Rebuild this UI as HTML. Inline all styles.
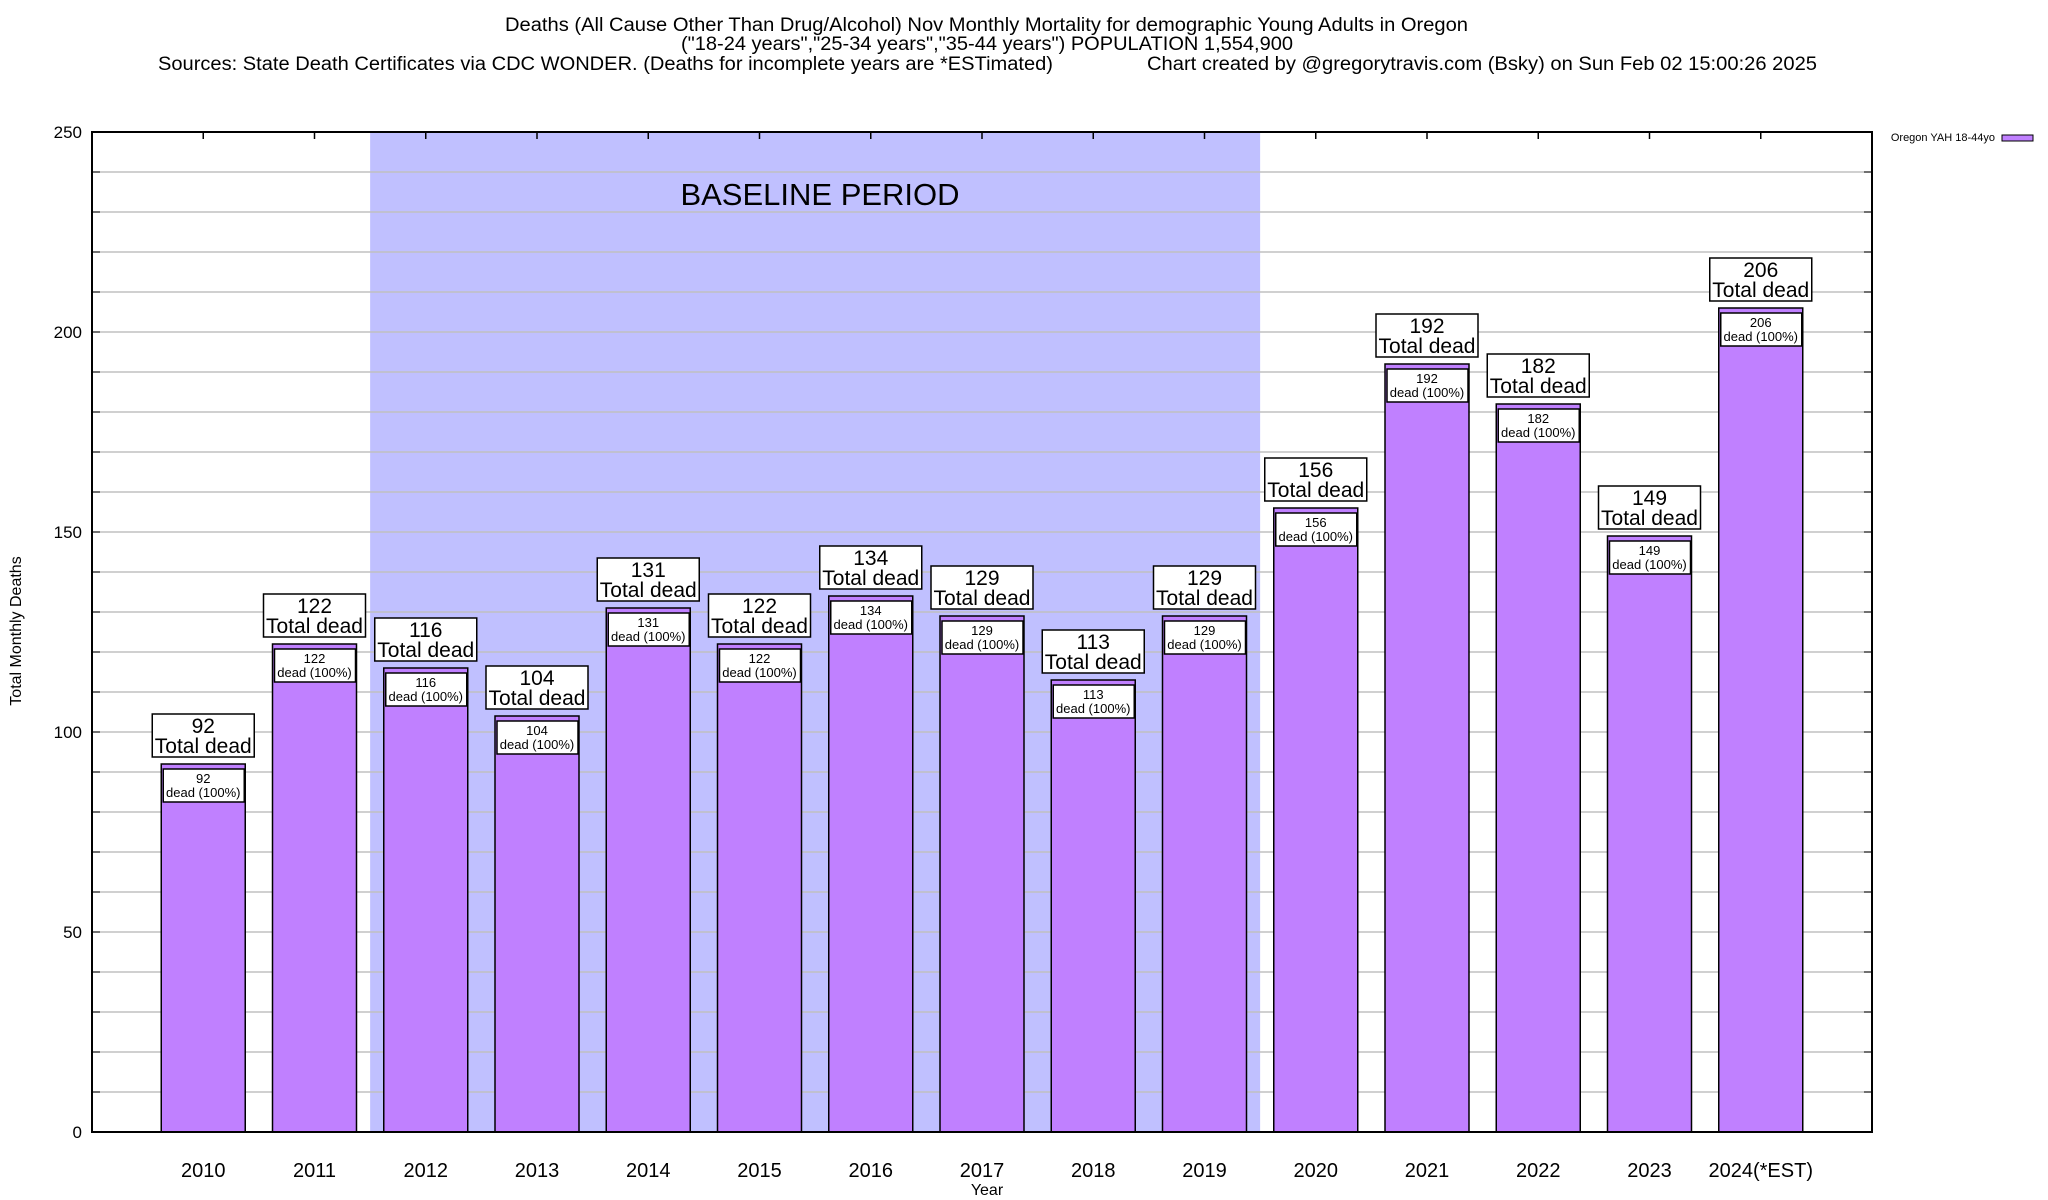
<!DOCTYPE html>
<html><head><meta charset="utf-8"><style>
html,body{margin:0;padding:0;background:#fff;}
svg{display:block;font-family:"Liberation Sans",Arial,sans-serif;}
</style></head><body>
<svg id="chart" width="2048" height="1200" viewBox="0 0 2048 1200" xmlns="http://www.w3.org/2000/svg">
<g>
<text x="505" y="31" font-size="19" textLength="963" lengthAdjust="spacingAndGlyphs">Deaths (All Cause Other Than Drug/Alcohol) Nov Monthly Mortality for demographic Young Adults in Oregon</text>
<text x="681" y="50" font-size="19" textLength="612" lengthAdjust="spacingAndGlyphs">("18-24 years","25-34 years","35-44 years") POPULATION 1,554,900</text>
<text x="158" y="70" font-size="19" textLength="895" lengthAdjust="spacingAndGlyphs">Sources: State Death Certificates via CDC WONDER. (Deaths for incomplete years are *ESTimated)</text>
<text x="1147" y="70" font-size="19" textLength="670" lengthAdjust="spacingAndGlyphs">Chart created by @gregorytravis.com (Bsky) on Sun Feb 02 15:00:26 2025</text>
</g>
<g id="plot"></g>
</svg>
<script>
const categories=["2010","2011","2012","2013","2014","2015","2016","2017","2018","2019","2020","2021","2022","2023","2024(*EST)"];
const deaths=[92,122,116,104,131,122,134,129,113,129,156,192,182,149,206];
const yTicks=[0,50,100,150,200,250];
const baselineStart="2012", baselineEnd="2019";
const NS="http://www.w3.org/2000/svg";
const L=92,R=1872,T=132,B=1132;
const xs=i=>L+(i+1)*(R-L)/16;
const ys=v=>B-(v/250)*(B-T);
const unit=(R-L)/16;
const g=document.getElementById('plot');
function mk(tag,attrs,parent){const e=document.createElementNS(NS,tag);for(const k in attrs)e.setAttribute(k,attrs[k]);(parent||g).appendChild(e);return e;}
const bs=categories.indexOf(baselineStart),be=categories.indexOf(baselineEnd);
const shade=mk('rect',{x:xs(bs)-unit/2,y:T,width:(be-bs+1)*unit,height:B-T,fill:'#c0c0ff'});


const bt=mk('text',{x:820,y:205,'text-anchor':'middle','font-size':31});
bt.textContent='BASELINE PERIOD';


for(let v=10;v<250;v+=10){
 const gl=mk('line',{x1:L,x2:R,y1:ys(v),y2:ys(v),stroke:'#c0c0c0','stroke-width':1.5});
 
 
 mk('line',{x1:L,x2:L+8,y1:ys(v),y2:ys(v),stroke:'#000','stroke-width':1});
 mk('line',{x1:R-8,x2:R,y1:ys(v),y2:ys(v),stroke:'#000','stroke-width':1});
}
yTicks.forEach(v=>{
 const t=mk('text',{x:82,y:ys(v)+6,'text-anchor':'end','font-size':17});
 t.textContent=v;
 
 
});
const bw=84;
categories.forEach((c,i)=>{
 const cx=xs(i),v=deaths[i],yt=ys(v);
 mk('line',{x1:cx,x2:cx,y1:T,y2:T+7,stroke:'#000','stroke-width':1.5});
 const bar=mk('rect',{x:cx-bw/2,y:yt,width:bw,height:B-yt,fill:'#c080ff',stroke:'#000','stroke-width':1.5});
 
 
 const ib=mk('rect',{x:cx-40,y:yt+5,width:81,height:33,fill:'#fff',stroke:'#000','stroke-width':1.5});
 
 
 const t1=mk('text',{x:cx,y:yt+19,'text-anchor':'middle','font-size':13});t1.textContent=v;
 
 
 const t2=mk('text',{x:cx,y:yt+33,'text-anchor':'middle','font-size':13});t2.textContent='dead (100%)';
 
 
 const ob=mk('rect',{x:cx-51,y:yt-50,width:102,height:43,fill:'#fff',stroke:'#000','stroke-width':1.5});
 
 
 const o1=mk('text',{x:cx,y:yt-31,'text-anchor':'middle','font-size':21});o1.textContent=v;
 
 
 const o2=mk('text',{x:cx,y:yt-11,'text-anchor':'middle','font-size':21});o2.textContent='Total dead';
 
 
 const xl=mk('text',{x:cx,y:1177,'text-anchor':'middle','font-size':20});xl.textContent=c;
 
 
});
const frame=mk('rect',{x:L,y:T,width:R-L,height:B-T,fill:'none',stroke:'#000','stroke-width':2});


const yl=mk('text',{x:0,y:0,'text-anchor':'middle','font-size':16,transform:'translate(21,631) rotate(-90)'});
yl.textContent='Total Monthly Deaths';


const xl=mk('text',{x:987,y:1195,'text-anchor':'middle','font-size':16});
xl.textContent='Year';


const lg=mk('text',{x:1995,y:141,'text-anchor':'end','font-size':11});
lg.textContent='Oregon YAH 18-44yo';


const ls=mk('rect',{x:2002,y:135,width:31,height:6,fill:'#c080ff',stroke:'#000','stroke-width':1});


</script>
</body></html>
